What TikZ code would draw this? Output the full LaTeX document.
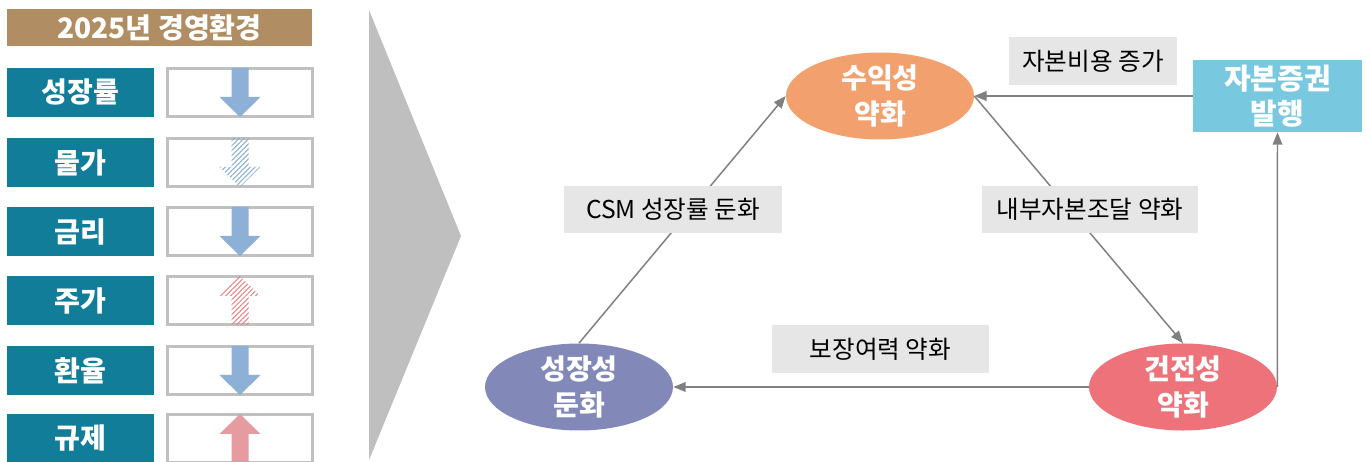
\documentclass[tikz,border=0pt]{standalone}
\usepackage{fontspec}
\setmainfont{Noto Sans CJK KR}
\usetikzlibrary{
    arrows.meta,
    shapes.geometric,
    patterns.meta
}
\definecolor{envbrown}{RGB}{176,141,99}
\definecolor{factorteal}{RGB}{17,125,153}
\definecolor{boxgray}{RGB}{192,192,192}
\definecolor{downblue}{RGB}{141,176,214}
\definecolor{uppink}{RGB}{229,155,160}
\definecolor{chevrongray}{RGB}{191,191,191}
\definecolor{profitorange}{RGB}{242,160,110}
\definecolor{growpurple}{RGB}{130,136,184}
\definecolor{soundred}{RGB}{238,114,121}
\definecolor{capitalblue}{RGB}{120,200,224}
\definecolor{causegray}{RGB}{230,230,230}
\definecolor{linkgray}{RGB}{128,128,128}

\tikzset{
    titlebar/.style={fill=envbrown, text=white, font=\bfseries\fontsize{16}{18}\selectfont,
        minimum width=6.1cm, minimum height=0.74cm, inner sep=0pt},
    factor/.style={fill=factorteal, text=white, font=\bfseries\fontsize{16}{18}\selectfont,
        minimum width=2.94cm, minimum height=0.98cm, inner sep=0pt},
    trendbox/.style={draw=boxgray, line width=1.2pt, fill=white,
        minimum width=2.9cm, minimum height=0.96cm, inner sep=0pt},
    trend down/.pic={
        \path[pic actions] (-8.5,-24.5) -- (8.5,-24.5) -- (8.5,4.5) -- (20.5,4.5)
            -- (0,24.5) -- (-20.5,4.5) -- (-8.5,4.5) -- cycle;
    },
    trend up/.pic={
        \path[pic actions] (-8.5,24.5) -- (8.5,24.5) -- (8.5,-4.5) -- (20.5,-4.5)
            -- (0,-24.5) -- (-20.5,-4.5) -- (-8.5,-4.5) -- cycle;
    },
    hatched/.style={pattern={Lines[angle=45, distance=2pt, line width=0.6pt]}, pattern color=#1},
    effect/.style={ellipse, fill=#1, text=white, align=center,
        font=\bfseries\fontsize{16}{20}\selectfont,
        minimum width=3.76cm, minimum height=1.62cm, inner sep=0pt},
    cause/.style={fill=causegray, font=\fontsize{14}{16}\selectfont,
        minimum height=0.95cm, inner sep=0pt},
    link/.style={draw=linkgray, line width=0.85pt, -{Triangle[length=7pt, width=5.5pt]}}
}

\begin{document}
\begin{tikzpicture}[x=0.02cm, y=-0.02cm]
    \useasboundingbox (0,0) rectangle (1367,462);
    \clip (0,0) rectangle (1367,462);

    % environment table
    \node[titlebar] (env) at (159.5, 28) {2025년 경영환경};

    \node[factor] (f1) at (80.5, 92.5) {성장률};
    \node[factor] (f2) at (80.5, 162.5) {물가};
    \node[factor] (f3) at (80.5, 231.5) {금리};
    \node[factor] (f4) at (80.5, 300.5) {주가};
    \node[factor] (f5) at (80.5, 370.5) {환율};
    \node[factor] (f6) at (80.5, 438.5) {규제};

    \node[trendbox] (t1) at (240, 92.5) {};
    \node[trendbox] (t2) at (240, 162.5) {};
    \node[trendbox] (t3) at (240, 231.5) {};
    \node[trendbox] (t4) at (240, 300.5) {};
    \node[trendbox] (t5) at (240, 370.5) {};
    \node[trendbox] (t6) at (240, 438.5) {};

    \pic[fill=downblue] at (t1) {trend down};
    \pic[hatched=downblue] at (t2) {trend down};
    \pic[fill=downblue] at (t3) {trend down};
    \pic[hatched=uppink!85!red] at (t4) {trend up};
    \pic[fill=downblue] at (t5) {trend down};
    \pic[fill=uppink] at (t6) {trend up};

    % chevron
    \fill[chevrongray] (369,10) -- (461,236) -- (369,460) -- cycle;

    % causal loop
    \node[effect=profitorange] (profit) at (880, 96) {수익성\\약화};
    \node[effect=growpurple] (grow) at (579, 387) {성장성\\둔화};
    \node[effect=soundred] (sound) at (1183, 387) {건전성\\약화};
    \node[fill=capitalblue, text=white, align=center,
        font=\bfseries\fontsize{16.5}{20}\selectfont,
        minimum width=3.38cm, minimum height=1.44cm, inner sep=0pt]
        (capital) at (1277.5, 96) {자본증권\\발행};

    \draw[link] (grow.north) -- (profit.west);
    \draw[link] (profit.east) -- (sound.north);
    \draw[link] (sound.west) -- (grow.east);
    \draw[link] (capital.west) -- (profit.east);
    \draw[link] (sound.east) -- (capital.south);

    \node[cause, minimum width=3.36cm] (cost) at (1093, 61) {자본비용 증가};
    \node[cause, minimum width=4.36cm] (csm) at (673, 209.5) {CSM 성장률 둔화};
    \node[cause, minimum width=4.32cm] (internal) at (1090, 209.5) {내부자본조달 약화};
    \node[cause, minimum width=4.34cm] (solvency) at (880.5, 349) {보장여력 약화};
\end{tikzpicture}
\end{document}
